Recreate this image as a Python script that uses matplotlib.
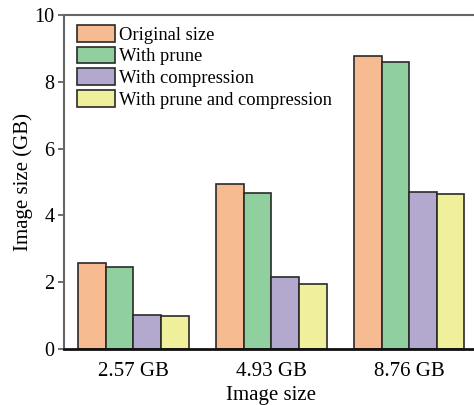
import numpy as np
import matplotlib.pyplot as plt

plt.rcParams['font.family'] = ['Liberation Serif', 'DejaVu Serif']

# image sizes (GB) for each build variant
groups = ['2.57 GB', '4.93 GB', '8.76 GB']
original = [2.57, 4.93, 8.76]
with_prune = [2.47, 4.68, 8.59]
with_compression = [1.03, 2.17, 4.70]
with_both = [0.99, 1.96, 4.65]

labels = ['Original size', 'With prune', 'With compression',
          'With prune and compression']
colors = ['#F7BB91', '#90D09E', '#B3A8CE', '#F0F09C']

fig = plt.figure(figsize=(4.74, 4.05), dpi=100)
ax = fig.add_axes([0.136, 0.138, 0.873, 0.825])

x = np.arange(len(groups))
w = 0.2
series = [original, with_prune, with_compression, with_both]
for i, (vals, lab, col) in enumerate(zip(series, labels, colors)):
    ax.bar(x + (i - 1.5) * w, vals, w, color=col, edgecolor='#2a2a2a',
           linewidth=1.2, label=lab)

ax.set_xlim(-0.5, 2.5)
ax.set_ylim(0, 10)
ax.set_yticks([0, 2, 4, 6, 8, 10])
ax.set_xticks(x)
ax.set_xticklabels(groups)
ax.tick_params(axis='x', length=0, labelsize=15, pad=9)
ax.tick_params(axis='y', length=4, width=1.2, color='#555555', labelsize=14.5, pad=3)
ax.set_xlabel('Image size', fontsize=15, labelpad=4)
ax.set_ylabel('Image size (GB)', fontsize=15, labelpad=1)

for s in ['left', 'top', 'right']:
    ax.spines[s].set_color('#666666')
    ax.spines[s].set_linewidth(1.5)
ax.spines['bottom'].set_color('#111111')
ax.spines['bottom'].set_linewidth(2)

ax.legend(loc='upper left', bbox_to_anchor=(0.031, 0.97), frameon=False,
          fontsize=13.3, handlelength=2.05, handleheight=1.0,
          handletextpad=0.2, labelspacing=0.17, borderaxespad=0, borderpad=0)

fig.savefig('out.png', dpi=100)
